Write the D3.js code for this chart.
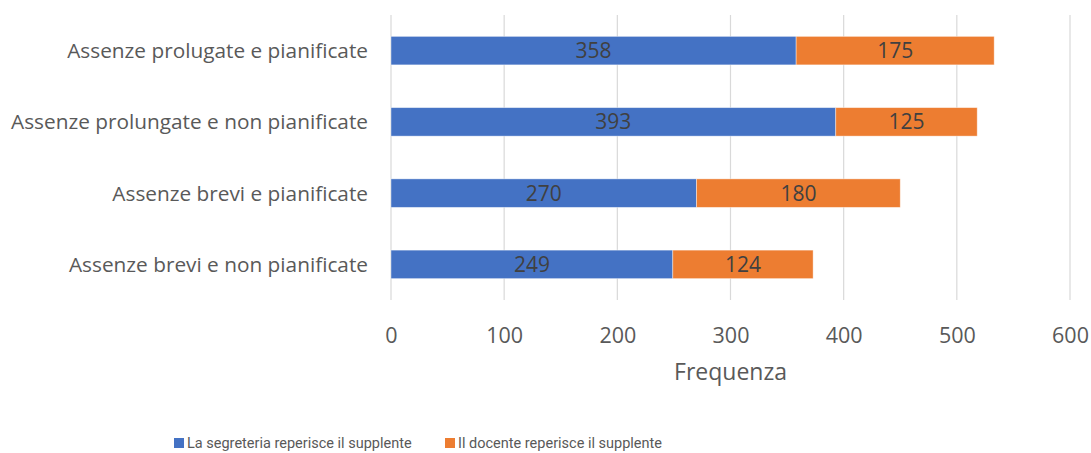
<!DOCTYPE html>
<html>
<head>
<meta charset="utf-8">
<script src="https://cdn.jsdelivr.net/npm/d3@7"></script>
<style>
  body { margin: 0; background: #fff; }
  svg { font-family: "Open Sans", sans-serif; }
</style>
</head>
<body>
<svg></svg>
<script>
const categories = [
    "Assenze prolugate e pianificate",
    "Assenze prolungate e non pianificate",
    "Assenze brevi e pianificate",
    "Assenze brevi e non pianificate"
];
const segreteria = [358, 393, 270, 249];
const docente = [175, 125, 180, 124];
const seriesNames = ["La segreteria reperisce il supplente", "Il docente reperisce il supplente"];
const colors = ["#4472C4", "#ED7D31"];
const xTicks = [0, 100, 200, 300, 400, 500, 600];

const width = 1091,
    height = 453;

const svg = d3.select("svg")
    .attr("width", width)
    .attr("height", height);

const margin = { top: 15, left: 391, right: 21, bottom: 153 };

const x = d3.scaleLinear().domain([0, 600]).range([margin.left, width - margin.right]);
const y = d3.scaleBand()
    .domain(categories)
    .range([margin.top, height - margin.bottom])
    .paddingInner(0.6)
    .paddingOuter(0.3);

// gridlines
svg.append("g")
    .selectAll("line")
    .data(xTicks)
    .join("line")
    .attr("x1", d => x(d))
    .attr("x2", d => x(d))
    .attr("y1", margin.top)
    .attr("y2", height - margin.bottom)
    .attr("stroke", "#D9D9D9")
    .attr("stroke-width", 1.2);

// stack data
const rows = categories.map((c, i) => ({ cat: c, s0: segreteria[i], s1: docente[i] }));
const stack = d3.stack().keys(["s0", "s1"])(rows);

stack.forEach((layer, li) => {
    const g = svg.append("g");
    g.selectAll("rect")
        .data(layer)
        .join("rect")
        .attr("x", d => x(d[0]))
        .attr("y", d => y(d.data.cat))
        .attr("width", d => x(d[1]) - x(d[0]))
        .attr("height", y.bandwidth())
        .attr("fill", colors[li])
        .attr("stroke", "#fff")
        .attr("stroke-opacity", 0.5)
        .attr("stroke-width", 0.8);
    g.selectAll("text")
        .data(layer)
        .join("text")
        .attr("x", d => (x(d[0]) + x(d[1])) / 2)
        .attr("y", d => y(d.data.cat) + y.bandwidth() / 2)
        .attr("dy", "0.36em")
        .attr("text-anchor", "middle")
        .attr("font-size", 21)
        .attr("fill", "#404040")
        .text(d => d[1] - d[0]);
});

// category labels
svg.append("g")
    .selectAll("text")
    .data(categories)
    .join("text")
    .attr("x", 368)
    .attr("y", d => y(d) + y.bandwidth() / 2)
    .attr("dy", "0.36em")
    .attr("text-anchor", "end")
    .attr("font-size", 20.8)
    .attr("fill", "#595959")
    .text(d => d);

// x axis labels
const xAxis = svg.append("g")
    .attr("transform", `translate(0,${height - margin.bottom})`)
    .call(d3.axisBottom(x).tickValues(xTicks).tickSize(0).tickPadding(28));
xAxis.select(".domain").remove();
xAxis.selectAll("text")
    .attr("font-size", 21.5)
    .attr("font-family", "'Open Sans', sans-serif")
    .attr("fill", "#595959");

svg.append("text")
    .attr("x", x(300))
    .attr("y", 372)
    .attr("dy", "0.36em")
    .attr("text-anchor", "middle")
    .attr("font-size", 23)
    .attr("fill", "#595959")
    .text("Frequenza");

// legend
const legendX = [174, 445];
const legend = svg.append("g")
    .selectAll("g")
    .data(seriesNames)
    .join("g")
    .attr("transform", (d, i) => `translate(${legendX[i]},443)`);
legend.append("rect")
    .attr("x", 0)
    .attr("y", -5)
    .attr("width", 10)
    .attr("height", 10)
    .attr("fill", (d, i) => colors[i]);
legend.append("text")
    .attr("x", 13)
    .attr("dy", "0.36em")
    .attr("font-family", "Roboto, sans-serif")
    .attr("font-size", 14.5)
    .attr("fill", "#595959")
    .text(d => d);
</script>
</body>
</html>
